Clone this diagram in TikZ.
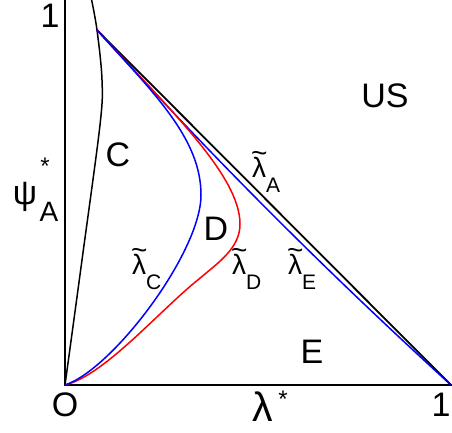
\documentclass[tikz,border=0pt]{standalone}
\usepackage{fontspec}
\setmainfont{Liberation Sans}
\newcommand{\tlam}{\ooalign{λ\cr\hidewidth\raisebox{0.52em}{\char"7E}\hidewidth\cr}}
\newcommand{\lamt}[1]{\tlam\raisebox{-15pt}{\fontsize{21}{21}\selectfont #1}}
\begin{document}
\begin{tikzpicture}[x=1pt,y=-1pt,
  axis/.style={line width=2.3pt},
  curve/.style={line width=1.5pt},
  big/.style={font=\fontsize{34}{34}\selectfont, inner sep=0pt},
  lab/.style={font=\fontsize{28}{28}\selectfont, inner sep=0pt, anchor=base west}]
\useasboundingbox (0,0) rectangle (452,432);
\clip (0,0) rectangle (452,432);
\coordinate (O) at (65,385);
\coordinate (T) at (65,-2);
\coordinate (X) at (452,385);
\coordinate (P) at (97,30);
\coordinate (Q) at (451,385);
\coordinate (AC) at (201,195);
\coordinate (AD) at (240,224);
\coordinate (MD) at (199,279);
% axes
\draw[axis] (T) -- (O) -- (X);
% black C boundary
\draw[curve, black] plot[smooth, tension=0.55] coordinates {(65,385) (82,260) (100,125) (102,80) (97,30) (91,-3)};
% lambda_A diagonal
\draw[line width=1.8pt, black] (P) -- (Q);
% lambda_E blue
\draw[curve, blue] (P) .. controls (209,154) and (327,272) .. (Q);
% lambda_D red
\draw[curve, red] (P) .. controls (167,107) and (240,175) .. (AD)
  .. controls (240,248) and (219,262) .. (MD)
  .. controls (160,310) and (105,375) .. (O);
% lambda_C blue
\draw[curve, blue] (P) .. controls (157,96) and (201,140) .. (AC)
  .. controls (201,252) and (113,369) .. (O);
% labels
\node[big] (one) at (50,16) {1};
\node[big] (us) at (385,96) {US};
\node[big] (c) at (118,155) {C};
\node[big] (d) at (216,229) {D};
\node[big] (e) at (312,352) {E};
\node[big] (o) at (65,405) {O};
\node[font=\fontsize{41}{41}\selectfont, inner sep=0pt] (lam) at (263,407) {λ};
\node[font=\fontsize{24}{24}\selectfont, inner sep=0pt] (lamstar) at (283,399) {*};
\node[big] (onex) at (441,405) {1};
\node[big] (psi) at (25,197) {ψ};
\node[font=\fontsize{24}{24}\selectfont, inner sep=0pt] (psistar) at (45,166) {*};
\node[font=\fontsize{28}{28}\selectfont, inner sep=0pt] (psiA) at (49,212) {A};
\node[lab] (la) at (252,177) {\lamt{A}};
\node[lab] (lc) at (132,274) {\lamt{C}};
\node[lab] (ld) at (232,274) {\lamt{D}};
\node[lab] (le) at (288,274) {\lamt{E}};
\end{tikzpicture}
\end{document}
